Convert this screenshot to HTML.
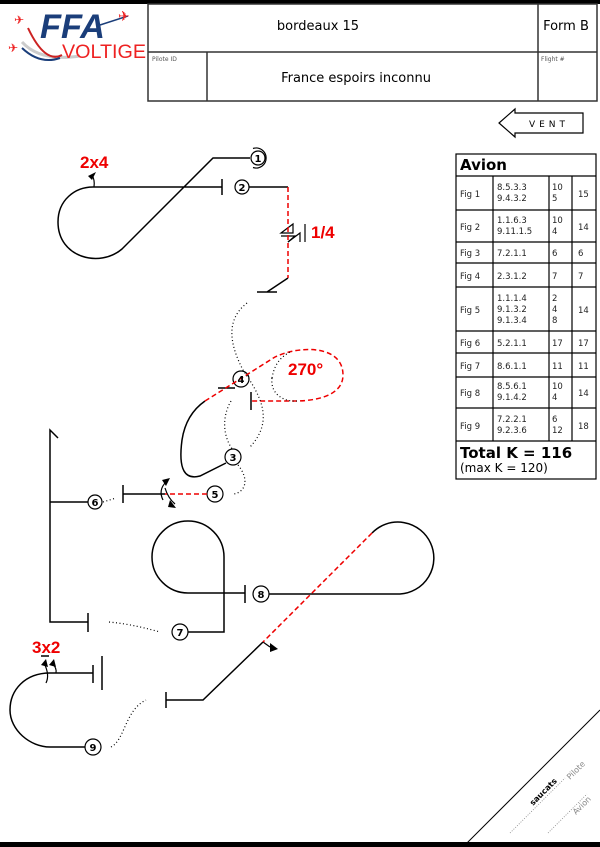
<!DOCTYPE html>
<html><head><meta charset="utf-8"><style>
html,body{margin:0;padding:0;background:#fff;}
svg{display:block;font-family:"DejaVu Sans","Liberation Sans",sans-serif;}
</style></head><body>
<svg width="600" height="847" viewBox="0 0 600 847" xmlns="http://www.w3.org/2000/svg">
<rect x="0" y="0" width="600" height="4" fill="#000"/>
<rect x="0" y="842" width="600" height="5" fill="#000"/>
<!-- logo -->
<g>
<path d="M22,42 Q40,62 80,56" stroke="#ccc" stroke-width="3" fill="none"/>
<path d="M28,28 Q45,64 62,55" stroke="#c22" stroke-width="2" fill="none"/>
<path d="M22,48 Q40,65 60,58" stroke="#1b3e7a" stroke-width="2" fill="none"/>
<text x="40" y="38" font-family="Liberation Sans,sans-serif" font-size="34" font-weight="bold" font-style="italic" fill="#1b3e7a" textLength="65" lengthAdjust="spacingAndGlyphs">FFA</text>
<line x1="100" y1="25" x2="128" y2="16" stroke="#1b3e7a" stroke-width="1.5"/>
<text x="118" y="21" font-size="14" fill="#e22">✈</text>
<text x="14" y="24" font-size="12" fill="#e22">✈</text>
<text x="8" y="52" font-size="12" fill="#e22">✈</text>
<text x="62" y="58" font-family="Liberation Sans,sans-serif" font-size="19" fill="#e22" textLength="84" lengthAdjust="spacingAndGlyphs">VOLTIGE</text>
</g>
<!-- header table -->
<g stroke="#333" stroke-width="1.5" fill="none">
<rect x="148" y="4" width="449" height="97"/>
<line x1="148" y1="52" x2="597" y2="52"/>
<line x1="538" y1="4" x2="538" y2="101"/>
<line x1="207" y1="52" x2="207" y2="101"/>
</g>
<text x="318" y="30" font-size="13" text-anchor="middle">bordeaux 15</text>
<text x="566" y="30" font-size="13" text-anchor="middle">Form B</text>
<text x="152" y="61" font-size="6" fill="#555">Pilote ID</text>
<text x="541" y="61" font-size="6" fill="#555">Flight #</text>
<text x="356" y="82" font-size="13" text-anchor="middle">France espoirs inconnu</text>
<!-- wind -->
<path d="M583,113 L515,113 L515,109 L499,123 L515,137 L515,133 L583,133 Z" fill="#fff" stroke="#000" stroke-width="1.2"/>
<text x="549" y="127" font-size="9" text-anchor="middle" letter-spacing="4">VENT</text>
<!-- score table -->
<g stroke="#000" stroke-width="1.2" fill="none">
<rect x="456" y="154" width="140" height="325"/>
<line x1="456" y1="176" x2="596" y2="176"/>
<line x1="456" y1="210" x2="596" y2="210"/>
<line x1="456" y1="242" x2="596" y2="242"/>
<line x1="456" y1="263" x2="596" y2="263"/>
<line x1="456" y1="287" x2="596" y2="287"/>
<line x1="456" y1="331" x2="596" y2="331"/>
<line x1="456" y1="353" x2="596" y2="353"/>
<line x1="456" y1="377" x2="596" y2="377"/>
<line x1="456" y1="408" x2="596" y2="408"/>
<line x1="456" y1="441" x2="596" y2="441"/>
<line x1="493" y1="176" x2="493" y2="441"/>
<line x1="549" y1="176" x2="549" y2="441"/>
<line x1="572" y1="176" x2="572" y2="441"/>
</g>
<text x="460" y="170" font-size="15" font-weight="bold">Avion</text>
<g font-size="8.5" fill="#222">
<text x="460" y="197">Fig 1</text><text x="497" y="190">8.5.3.3</text><text x="497" y="201">9.4.3.2</text><text x="552" y="190">10</text><text x="552" y="201">5</text><text x="578" y="197">15</text>
<text x="460" y="230">Fig 2</text><text x="497" y="223">1.1.6.3</text><text x="497" y="234">9.11.1.5</text><text x="552" y="223">10</text><text x="552" y="234">4</text><text x="578" y="230">14</text>
<text x="460" y="256">Fig 3</text><text x="497" y="256">7.2.1.1</text><text x="552" y="256">6</text><text x="578" y="256">6</text>
<text x="460" y="279">Fig 4</text><text x="497" y="279">2.3.1.2</text><text x="552" y="279">7</text><text x="578" y="279">7</text>
<text x="460" y="313">Fig 5</text><text x="497" y="301">1.1.1.4</text><text x="497" y="312">9.1.3.2</text><text x="497" y="323">9.1.3.4</text><text x="552" y="301">2</text><text x="552" y="312">4</text><text x="552" y="323">8</text><text x="578" y="313">14</text>
<text x="460" y="346">Fig 6</text><text x="497" y="346">5.2.1.1</text><text x="552" y="346">17</text><text x="578" y="346">17</text>
<text x="460" y="369">Fig 7</text><text x="497" y="369">8.6.1.1</text><text x="552" y="369">11</text><text x="578" y="369">11</text>
<text x="460" y="396">Fig 8</text><text x="497" y="389">8.5.6.1</text><text x="497" y="400">9.1.4.2</text><text x="552" y="389">10</text><text x="552" y="400">4</text><text x="578" y="396">14</text>
<text x="460" y="429">Fig 9</text><text x="497" y="422">7.2.2.1</text><text x="497" y="433">9.2.3.6</text><text x="552" y="422">6</text><text x="552" y="433">12</text><text x="578" y="429">18</text>
</g>
<text x="460" y="458" font-size="15" font-weight="bold">Total K = 116</text>
<text x="460" y="472" font-size="12">(max K = 120)</text>

<!-- figures -->
<g stroke="#000" stroke-width="1.5" fill="none">
<path d="M250,158 L213,158 L122,249 C100,268 58,258 58,222 C58,200 75,187 93,187 L222,187"/>
<line x1="222" y1="179" x2="222" y2="195"/>
<circle cx="258" cy="158" r="7" stroke-width="1.2"/>
<path d="M253,148.5 A10,10 0 1 1 253,167.5" stroke-width="1.2"/>
<path d="M94,187 Q95,180 92,175" stroke-width="1.2"/>
<circle cx="242" cy="187" r="7" stroke-width="1.2"/>
<path d="M249,187 L288,187"/>
<path d="M288,278 L267,292 M257,292 L277,292"/>
<path d="M281,233 L293,224 L293,233 Z M288,242 L300,233 L300,242" stroke-width="1.2"/>
<path d="M281,236 L295,236 L288,242" stroke-width="1.2"/>
<line x1="305" y1="224" x2="305" y2="242" stroke-width="1.2"/>
<path d="M226,463 L200,476 C185,480 178,470 182,440 C185,420 195,408 205,401"/>
<circle cx="233" cy="457" r="8" stroke-width="1.2"/>
<circle cx="241" cy="379" r="8" stroke-width="1.2"/>
<line x1="218" y1="388" x2="235" y2="388"/>
<line x1="251" y1="392" x2="251" y2="410"/>
<circle cx="215" cy="494" r="8" stroke-width="1.2"/>
<path d="M165,494 L123,494 M123,485 L123,503"/>
<path d="M163,500 Q158,490 166,482" stroke-width="1.2"/>
<path d="M165,488 Q168,498 175,504" stroke-width="1.2"/>
<circle cx="95" cy="502" r="7" stroke-width="1.2"/>
<path d="M88,502 L50,502 M58,438 L50,430 L50,622 L88,622 M88,613 L88,632"/>
<circle cx="180" cy="632" r="8" stroke-width="1.2"/>
<path d="M188,632 L224,632 L224,557 A36,36 0 1 0 188,593 L245,593 M245,585 L245,603"/>
<circle cx="261" cy="594" r="8" stroke-width="1.2"/>
<path d="M269,594 L400,594 A36,36 0 1 0 372,533"/>
<path d="M263,642 L203,700 L166,700 M166,692 L166,708"/>
<path d="M263,642 L270,647" stroke-width="1.2"/>
<path d="M93,673 L50,673 C25,673 10,690 10,710 C10,730 30,747 50,747 L85,747 M93,665 L93,683 M102,656 L102,690"/>
<circle cx="93" cy="747" r="8" stroke-width="1.2"/>
<path d="M46,683 Q50,675 44,663 M56,673 Q57,668 52,663" stroke-width="1.2"/>
<line x1="41" y1="656" x2="49" y2="656"/>
</g>
<g fill="#000">
<path d="M88,176 L96,172 L92,180 Z"/>
<path d="M162,480 L170,478 L166,486 Z"/>
<path d="M170,500 L176,508 L168,507 Z"/>
<path d="M270,643 L278,649 L270,652 Z"/>
<path d="M41,665 L46,659 L48,667 Z"/>
<path d="M49,665 L54,659 L56,667 Z"/>
</g>
<g stroke="#e00" stroke-width="1.5" fill="none" stroke-dasharray="5,3">
<line x1="288" y1="187" x2="288" y2="278"/>
<path d="M205,401 L275,357 C300,345 343,345 343,375 C343,398 310,401 295,401 L251,401"/>
<line x1="207" y1="494" x2="165" y2="494"/>
<line x1="372" y1="533" x2="263" y2="642"/>
</g>
<g stroke="#000" stroke-width="1.2" fill="none" stroke-dasharray="1,2.5">
<path d="M247,303 C225,320 230,345 243,370 C260,395 275,420 250,447"/>
<path d="M231,401 C220,420 225,440 233,450 M238,465 C250,480 245,492 234,494"/>
<path d="M272,378 C275,360 285,355 290,352 M272,378 C270,395 285,402 297,401"/>
<path d="M103,502 L116,498"/>
<path d="M109,622 C130,624 145,628 160,632"/>
<path d="M111,747 C125,740 125,710 146,700"/>
</g>
<g fill="#e00" font-family="Liberation Sans,sans-serif" font-weight="bold">
<text x="80" y="168" font-size="17">2x4</text>
<text x="311" y="238" font-size="17">1/4</text>
<text x="288" y="375" font-size="17">270°</text>
<text x="32" y="653" font-size="17">3x2</text>
</g>
<g font-size="10" font-weight="bold" text-anchor="middle">
<text x="258" y="162">1</text><text x="242" y="191">2</text><text x="233" y="461">3</text>
<text x="241" y="383">4</text><text x="215" y="498">5</text><text x="95" y="506">6</text>
<text x="180" y="636">7</text><text x="261" y="598">8</text><text x="93" y="751">9</text>
</g>
<line x1="463" y1="847" x2="600" y2="710" stroke="#000" stroke-width="1"/>
<g stroke="#888" stroke-width="0.8" stroke-dasharray="1,1.5">
<line x1="510" y1="833" x2="565" y2="778"/>
<line x1="548" y1="833" x2="587" y2="794"/>
</g>
<text transform="translate(533,806) rotate(-45)" font-size="8" font-weight="bold">saucats</text>
<text transform="translate(570,780) rotate(-45)" font-size="8" fill="#888">Pilote</text>
<text transform="translate(576,815) rotate(-45)" font-size="8" fill="#888">Avion</text>
</svg>
</body></html>
